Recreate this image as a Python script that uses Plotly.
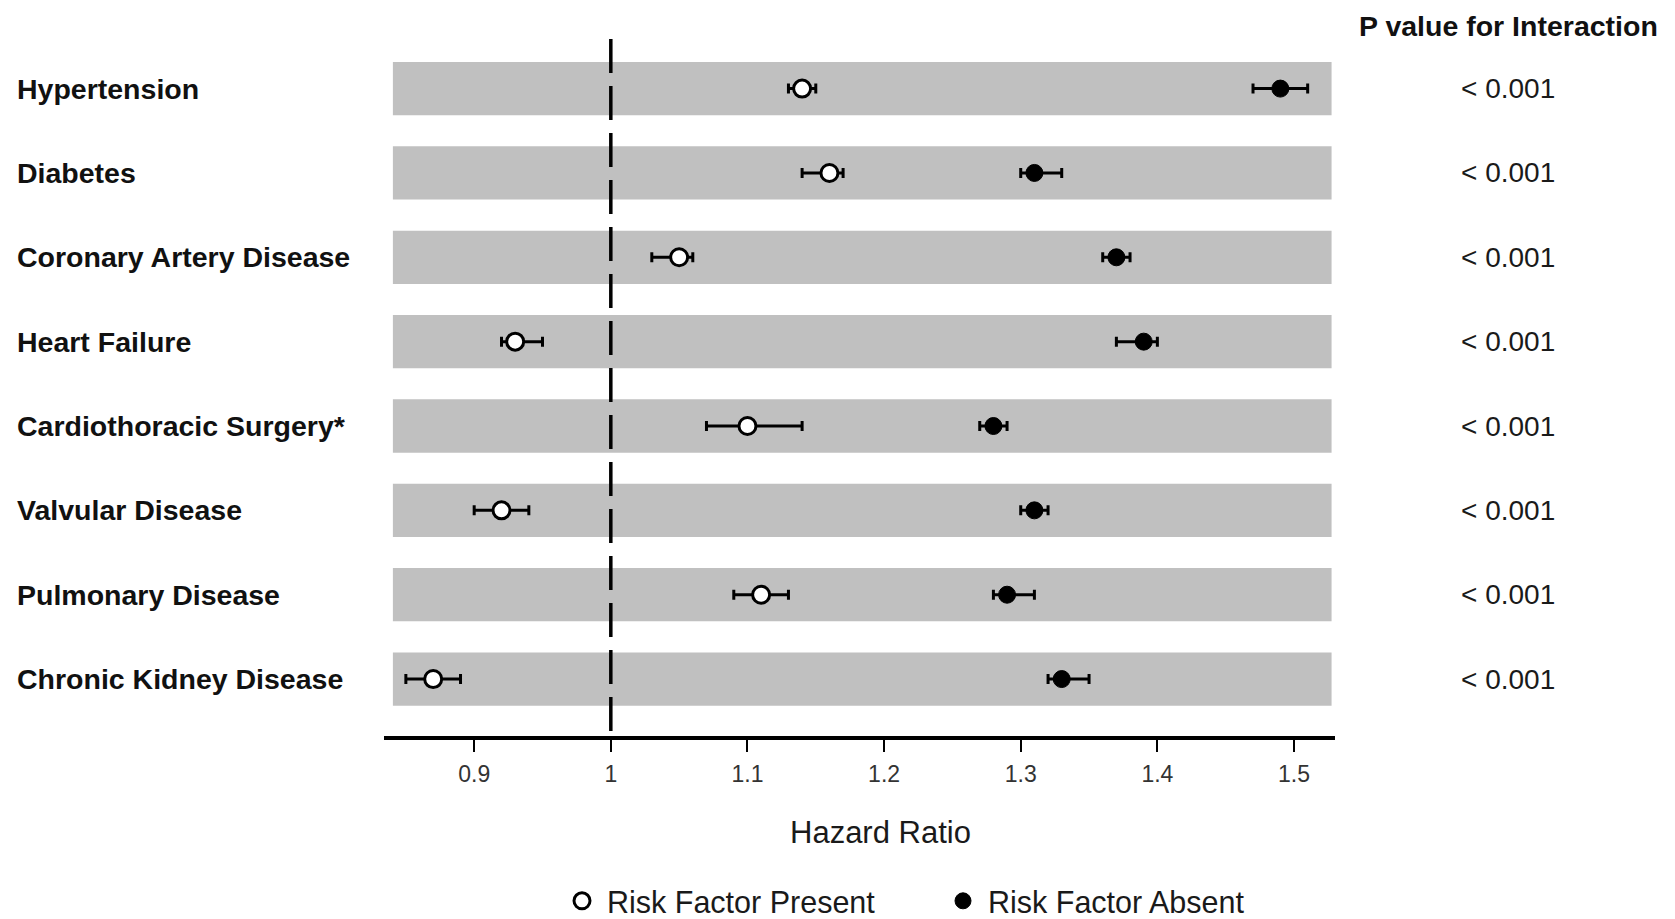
import plotly.graph_objects as go

categories = ["Hypertension", "Diabetes", "Coronary Artery Disease", "Heart Failure",
              "Cardiothoracic Surgery*", "Valvular Disease", "Pulmonary Disease",
              "Chronic Kidney Disease"]
present_hr = [1.14, 1.16, 1.05, 0.93, 1.10, 0.92, 1.11, 0.87]
present_lo = [1.13, 1.14, 1.03, 0.92, 1.07, 0.90, 1.09, 0.85]
present_hi = [1.15, 1.17, 1.06, 0.95, 1.14, 0.94, 1.13, 0.89]
absent_hr = [1.49, 1.31, 1.37, 1.39, 1.28, 1.31, 1.29, 1.33]
absent_lo = [1.47, 1.30, 1.36, 1.37, 1.27, 1.30, 1.28, 1.32]
absent_hi = [1.51, 1.33, 1.38, 1.40, 1.29, 1.32, 1.31, 1.35]
p_values = ["< 0.001"] * 8
tick_vals = [0.9, 1.0, 1.1, 1.2, 1.3, 1.4, 1.5]
tick_text = ["0.9", "1", "1.1", "1.2", "1.3", "1.4", "1.5"]

FONT = "Liberation Sans, Arial, sans-serif"
rows = list(range(len(categories)))

fig = go.Figure()

# background bands
for i in rows:
    fig.add_shape(type="rect", xref="x", yref="y", x0=0.8405, x1=1.5275,
                  y0=i - 0.316, y1=i + 0.316, fillcolor="#c0c0c0",
                  line=dict(width=0), layer="below")

# reference line at HR = 1
fig.add_shape(type="line", xref="x", yref="y", x0=1, x1=1, y0=-0.588, y1=7.675,
              line=dict(color="black", width=3.5, dash="34px,13px"))

fig.add_trace(go.Scatter(
    x=present_hr, y=rows, mode="markers", name="Risk Factor Present",
    marker=dict(symbol="circle", size=17, color="white",
                line=dict(color="black", width=3)),
    error_x=dict(type="data", symmetric=False,
                 array=[h - m for h, m in zip(present_hi, present_hr)],
                 arrayminus=[m - l for m, l in zip(present_hr, present_lo)],
                 color="black", thickness=3, width=5),
))
fig.add_trace(go.Scatter(
    x=absent_hr, y=rows, mode="markers", name="Risk Factor Absent",
    marker=dict(symbol="circle", size=17, color="black",
                line=dict(color="black", width=1)),
    error_x=dict(type="data", symmetric=False,
                 array=[h - m for h, m in zip(absent_hi, absent_hr)],
                 arrayminus=[m - l for m, l in zip(absent_hr, absent_lo)],
                 color="black", thickness=3, width=5),
))

annotations = []
for i, (cat, p) in enumerate(zip(categories, p_values)):
    annotations.append(dict(text="<b>" + cat + "</b>", xref="paper", yref="y",
                            x=-0.388, y=i, xanchor="left", yanchor="middle",
                            showarrow=False,
                            font=dict(family=FONT, size=28.5, color="#111111")))
    annotations.append(dict(text=p, xref="paper", yref="y", x=1.1819, y=i,
                            xanchor="center", yanchor="middle", showarrow=False,
                            font=dict(family=FONT, size=28, color="#1a1a1a")))
annotations.append(dict(text="<b>P value for Interaction</b>", xref="paper", yref="paper",
                        x=1.023, y=(728 - 0) / 697, xanchor="left", yanchor="top",
                        showarrow=False, font=dict(family=FONT, size=28.5, color="#111111")))
# x-axis title
annotations.append(dict(text="Hazard Ratio", xref="paper", yref="paper",
                        x=0.5226, y=-0.139, xanchor="center", yanchor="middle",
                        showarrow=False, font=dict(family=FONT, size=31, color="#1a1a1a")))

W, H = 1667, 911
fig.update_layout(
    width=W, height=H,
    margin=dict(l=376, r=340, t=31, b=183, pad=0),
    paper_bgcolor="white", plot_bgcolor="white",
    showlegend=True,
    legend=dict(orientation="h", xref="container", yref="container",
                x=(570 - 21) / W, y=(H - 893) / H, xanchor="left", yanchor="middle",
                font=dict(family=FONT, size=30.5, color="#1a1a1a"),
                itemwidth=40, entrywidth=326, entrywidthmode="pixels",
                itemsizing="trace", traceorder="normal"),
    annotations=annotations,
    xaxis=dict(range=[0.834, 1.530], showgrid=False, zeroline=False, automargin=False,
               showline=True, linecolor="black", linewidth=4,
               ticks="outside", ticklen=12, tickwidth=2, tickcolor="black",
               tickvals=tick_vals, ticktext=tick_text, ticklabelstandoff=2,
               tickfont=dict(family=FONT, size=23, color="#333333")),
    yaxis=dict(range=[7.675, -0.588], visible=False, showgrid=False, zeroline=False),
)

fig.write_html("out.html")
